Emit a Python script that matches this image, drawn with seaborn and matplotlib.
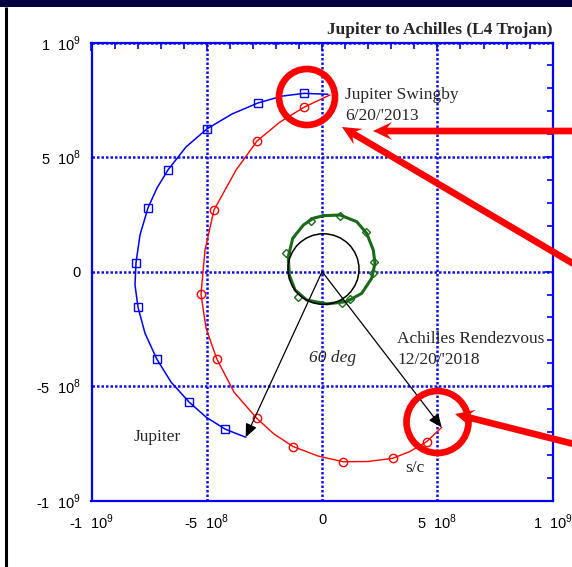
import numpy as np
import pandas as pd
import matplotlib
matplotlib.use("Agg")
import matplotlib.pyplot as plt
from matplotlib.patches import Circle, FancyArrow, Rectangle
from matplotlib.ticker import FixedLocator, FixedFormatter, MultipleLocator
import seaborn as sns

# Positions in units of 1e8 km (heliocentric, ecliptic plane)
UNIT = 1e8

jupiter_x = [0.256, -0.785, -1.739, -2.780, -3.907, -4.992, -5.902, -6.683, -7.160, -7.550,
             -7.897, -8.071, -8.114, -7.984, -7.680, -7.173, -6.553, -5.773, -5.035, -4.198, -3.313]
jupiter_y = [7.74, 7.78, 7.66, 7.36, 6.88, 6.23, 5.44, 4.44, 3.65, 2.78,
             1.60, 0.38, -0.58, -1.55, -2.69, -3.81, -4.82, -5.69, -6.35, -6.88, -7.23]

sc_x = [0.343, -0.772, -1.826, -2.823, -3.734, -4.688, -5.078, -5.252, -5.035, -4.571,
        -3.820, -2.836, -2.086, -1.249, -0.178, 0.919, 1.990, 3.062, 3.812, 4.536, 5.186]
sc_y = [7.71, 7.18, 6.53, 5.70, 4.43, 2.69, 0.94, -0.99, -2.46, -3.80,
        -5.26, -6.40, -7.09, -7.64, -8.05, -8.30, -8.29, -8.15, -7.85, -7.42, -6.80]

achilles_x = [0.052, 0.776, 1.500, 1.934, 2.220, 2.294, 2.151, 1.717, 1.067, 0.199,
              -0.668, -1.175, -1.422, -1.466, -1.275, -0.815, -0.382, 0.052]
achilles_y = [2.44, 2.47, 2.18, 1.67, 0.94, 0.36, -0.29, -0.95, -1.31, -1.41,
              -1.24, -0.80, -0.15, 0.65, 1.45, 2.03, 2.33, 2.44]

achilles_mark_x = [-0.494, 0.776, 1.904, 2.264, 2.194, 1.210, 0.850, -1.058, -1.565]
achilles_mark_y = [2.21, 2.43, 1.74, 0.43, -0.05, -1.20, -1.38, -1.10, 0.80]

ref_circle_center = (0.06, 0.11)
ref_circle_radius = 1.54

tick_values = [-1e9, -5e8, 0, 5e8, 1e9]
tick_labels = [r"-1  10$^{\mathregular{9}}$", r"-5  10$^{\mathregular{8}}$", "0",
               r"5  10$^{\mathregular{8}}$", r"1  10$^{\mathregular{9}}$"]

title_text = "Jupiter to Achilles (L4 Trojan)"

sns.set_style("white")
plt.rcParams["font.family"] = ["Liberation Sans", "DejaVu Sans"]
SERIF = ["Liberation Serif", "DejaVu Serif"]

jup = pd.DataFrame({"x": np.array(jupiter_x) * UNIT, "y": np.array(jupiter_y) * UNIT})
sc = pd.DataFrame({"x": np.array(sc_x) * UNIT, "y": np.array(sc_y) * UNIT})
ach = pd.DataFrame({"x": np.array(achilles_x) * UNIT, "y": np.array(achilles_y) * UNIT})
ach_m = pd.DataFrame({"x": np.array(achilles_mark_x) * UNIT, "y": np.array(achilles_mark_y) * UNIT})

W, H = 572, 567
fig = plt.figure(figsize=(W / 100, H / 100), dpi=100)
fig.patch.set_facecolor("white")
ax = fig.add_axes([91.5 / W, 1 - 500.7 / H, (552.7 - 91.5) / W, (500.7 - 42.5) / H])

blue = "#0000ff"
red = "#ff0000"
green = "#1a6a1a"

sns.lineplot(data=jup, x="x", y="y", sort=False, estimator=None, ax=ax, color=blue, lw=1.1,
             marker="s", markevery=slice(1, None, 2), markersize=6, markerfacecolor="none",
             markeredgecolor=blue, markeredgewidth=1.0)
sns.lineplot(data=sc, x="x", y="y", sort=False, estimator=None, ax=ax, color=red, lw=1.0,
             marker="o", markevery=slice(1, None, 2), markersize=6, markerfacecolor="none",
             markeredgecolor=red, markeredgewidth=1.0)
sns.lineplot(data=ach, x="x", y="y", sort=False, estimator=None, ax=ax, color=green, lw=2.2)
sns.lineplot(data=ach_m, x="x", y="y", sort=False, estimator=None, ax=ax, linestyle="",
             marker="D", markersize=3.6, markerfacecolor="none", markeredgecolor=green,
             markeredgewidth=1.0)

ax.add_patch(Circle((ref_circle_center[0] * UNIT, ref_circle_center[1] * UNIT),
                    ref_circle_radius * UNIT, fill=False, ec="black", lw=1.1, zorder=3))

# Sun-to-body direction arrows at arrival
for df in (jup, sc):
    ax.annotate("", xy=(df["x"].iloc[-1], df["y"].iloc[-1]), xytext=(0, 0),
                arrowprops=dict(arrowstyle="-|>,head_length=0.8,head_width=0.35",
                                mutation_scale=10, color="black", lw=0.9,
                                shrinkA=0, shrinkB=0), zorder=4)

ax.set_xlim(-1e9, 1e9)
ax.set_ylim(-1e9, 1e9)
ax.set_xlabel("")
ax.set_ylabel("")
for axis in (ax.xaxis, ax.yaxis):
    axis.set_major_locator(FixedLocator(tick_values))
    axis.set_major_formatter(FixedFormatter(tick_labels))
    axis.set_minor_locator(MultipleLocator(1e8))
ax.tick_params(which="both", direction="in", top=True, right=True, color=blue, width=1.2,
               labelsize=10.5, labelcolor="black")
ax.tick_params(which="major", length=6)
ax.tick_params(which="minor", length=4.5)
ax.tick_params(axis="y", pad=7.5)
ax.tick_params(axis="x", pad=9)
ax.set_axisbelow(True)
ax.grid(True, which="major", color="#1010f0", linestyle=(0, (1, 0.8)), linewidth=1.8)
for sp in ax.spines.values():
    sp.set_color(blue)
    sp.set_linewidth(1.6)

ax.text(1.0, 1.0186, title_text, transform=ax.transAxes, ha="right", va="baseline",
        fontsize=12.5, fontweight="bold", family=SERIF)

fs = 12.5
ax.text(1.0e8, 7.536e8, "Jupiter Swingby", family=SERIF, fontsize=fs, va="baseline")
ax.text(1.0e8, 6.617e8, "6/20/'2013", family=SERIF, fontsize=fs, va="baseline")
ax.text(3.248e8, -3.098e8, "Achilles Rendezvous", family=SERIF, fontsize=fs, va="baseline")
ax.text(3.248e8, -4.018e8, "12/20/'2018", family=SERIF, fontsize=fs, va="baseline")
ax.text(-8.161e8, -7.374e8, "Jupiter", family=SERIF, fontsize=fs, va="baseline")
ax.text(3.609e8, -8.761e8, "s/c", family=SERIF, fontsize=fs, va="baseline")
ax.text(-0.565e8, -3.961e8, "60 deg", family=SERIF, fontsize=fs, va="baseline", style="italic")

# Page frame and red call-outs drawn on a pixel-scaled overlay
ov = fig.add_axes([0, 0, 1, 1], zorder=10)
ov.set_xlim(0, W)
ov.set_ylim(H, 0)
ov.axis("off")
ov.patch.set_visible(False)
ov.add_patch(Rectangle((0, 0), W, 7, color="#000040", lw=0))
ov.plot([5.5, 5.5], [7, H], color="black", lw=2.2, solid_capstyle="butt")

ov.add_patch(Circle((307, 97), 28, fill=False, ec=red, lw=4.8))
ov.add_patch(Circle((437.5, 422), 31, fill=False, ec=red, lw=4.8))
for (x0, y0), (x1, y1) in [((600, 131), (373, 131)),
                           ((600, 279.5), (342, 127)),
                           ((600, 450.6), (455, 414))]:
    ov.add_patch(FancyArrow(x0, y0, x1 - x0, y1 - y0, width=6.7, head_width=18,
                            head_length=19, length_includes_head=True, overhang=0.25,
                            color=red, lw=0))

fig.savefig("out.png", dpi=100, facecolor="white")
